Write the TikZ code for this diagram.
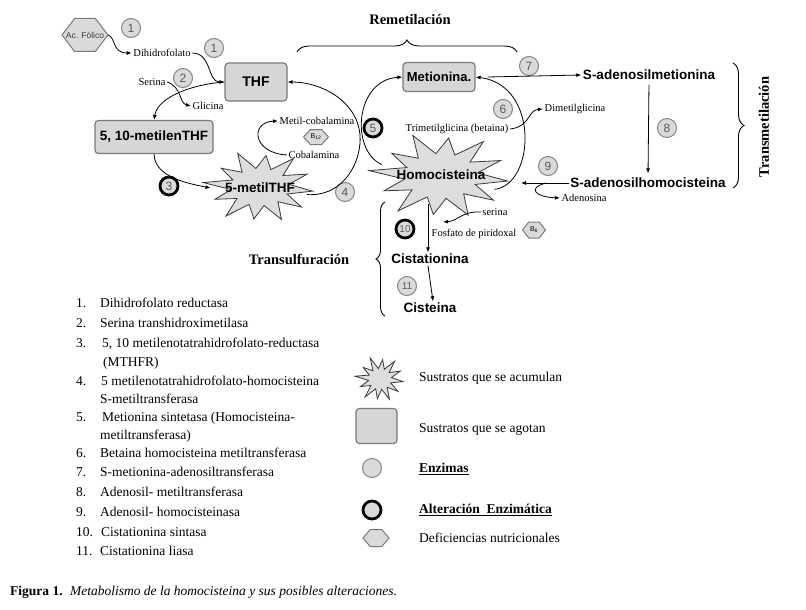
\documentclass[tikz,border=0pt]{standalone}
\usepackage{fontspec}
\setmainfont{Liberation Serif}
\setsansfont{Liberation Sans}
\usetikzlibrary{arrows.meta,shapes.geometric,decorations.pathreplacing,calc}
\definecolor{boxfill}{HTML}{D6D6D6}
\definecolor{boxline}{HTML}{7A7A7A}
\definecolor{enzfill}{HTML}{DADADA}
\definecolor{enzline}{HTML}{858585}
\definecolor{enztext}{HTML}{5A5A5A}
\definecolor{starfill}{HTML}{DDDDDD}
\definecolor{starline}{HTML}{3A3A3A}
\newcommand\fsz[1]{\fontsize{#1}{#1}\selectfont}
\newcommand\hexshape[4]{\draw[hexst] ({#1-#3},{#2}) -- ({#1-0.45*#3},{#2-#4}) -- ({#1+0.45*#3},{#2-#4}) -- ({#1+#3},{#2}) -- ({#1+0.45*#3},{#2+#4}) -- ({#1-0.45*#3},{#2+#4}) -- cycle;}
\newcommand\burstshape[6]{%
  \pgfmathtruncatemacro\burstN{2*#5-1}%
  \draw[starst] plot[samples at={0,...,\burstN}, variable=\x]
   ({#1+#3*(#6+(1-#6)*(1-mod(\x,2))*(1+0.18*sin(\x*97)))*cos(\x*180/#5+7)},
    {#2+#4*(#6+(1-#6)*(1-mod(\x,2))*(1+0.18*sin(\x*97)))*sin(\x*180/#5+7)}) -- cycle;}
\tikzset{
 arr/.style={-{Latex[length=5pt,width=4pt]}, line width=0.8pt},
 boxst/.style={draw=boxline, fill=boxfill, line width=1.2pt, rounded corners=3.5pt, inner sep=0pt, font=\sffamily\bfseries\fsz{13.5}},
 enzst/.style={circle, draw=enzline, fill=enzfill, line width=1pt, minimum size=19pt, inner sep=0pt, font=\sffamily\fsz{12}, text=enztext},
 altst/.style={enzst, draw=black, line width=2.8pt, minimum size=18pt},
 twodig/.style={font=\sffamily\fsz{10}},
 smalllab/.style={font=\fsz{10.5}, inner sep=1.5pt},
 metab/.style={font=\sffamily\bfseries\fsz{13.5}, inner sep=1.5pt},
 starlab/.style={ellipse, inner sep=0pt, font=\sffamily\bfseries\fsz{13.5}},
 hexst/.style={draw=boxline, fill=enzfill, line width=1pt},
 starst/.style={draw=starline, fill=starfill, line width=0.8pt, line join=miter},
 brc/.style={decorate, decoration={brace, amplitude=#1}, line width=0.9pt},
 titlab/.style={font=\bfseries\fsz{14.5}, inner sep=0pt},
 listitem/.style={anchor=base west, font=\fsz{13.5}, inner sep=0pt},
 legtxt/.style={anchor=west, font=\fsz{13.5}, inner sep=0pt},
}
\begin{document}
\begin{tikzpicture}[x=1pt,y=-1pt]
\useasboundingbox (0,0) rectangle (806,610);
\fill[white] (0,0) rectangle (806,610);

% ---- folate cycle ----
\hexshape{85}{35}{23}{16.5}
\node[font=\sffamily\fsz{8.5}, text=enztext!70!black, minimum width=46pt, minimum height=33pt, inner sep=0pt] (acf) at (85,35) {Ac. Fólico};
\node[enzst] (e1a) at (131,28) {1};
\node[smalllab] (dhf) at (162,53) {Dihidrofolato};
\node[enzst] (e1b) at (214,48) {1};
\node[boxst, minimum width=62pt, minimum height=38pt, font=\sffamily\bfseries\fsz{14}] (thf) at (256,82) {THF};
\node[smalllab] (ser) at (152,82) {Serina};
\node[enzst] (e2) at (183,78) {2};
\node[smalllab] (gli) at (208,106) {Glicina};
\node[boxst, minimum width=118pt, minimum height=33pt] (m10) at (154,137) {5, 10-metilenTHF};
\node[altst] (e3) at (169,186) {3};

\burstshape{260}{187}{53}{34}{12}{0.55}
\node[starlab, minimum width=94pt, minimum height=40pt] (mthf) at (260,188) {5-metilTHF};
\node[enzst] (e4) at (345,192) {4};

\node[smalllab] (mcob) at (317,121) {Metil-cobalamina};
\hexshape{316}{137}{12.5}{7.5}
\node[font=\sffamily\fsz{7}, inner sep=0pt] (b12) at (316,137) {B\textsubscript{12}};
\node[smalllab] (cob) at (314,155) {Cobalamina};
\node[altst] (e5) at (373,128) {5};

% ---- methionine cycle ----
\node[boxst, minimum width=72pt, minimum height=29pt, font=\sffamily\bfseries\fsz{13}] (met) at (439,77) {Metionina.};
\node[enzst] (e7) at (529,66) {7};
\node[enzst] (e6) at (503,109) {6};
\node[smalllab] (tmg) at (457,129) {Trimetilglicina (betaina)};
\node[smalllab] (dmg) at (575,109) {Dimetilglicina};
\node[metab] (sam) at (649,75) {S-adenosilmetionina};
\node[enzst] (e8) at (667,128) {8};
\node[metab] (sah) at (648,183) {S-adenosilhomocisteina};
\node[enzst] (e9) at (548,166) {9};
\node[smalllab] (ado) at (584,198) {Adenosina};

\burstshape{441}{176}{67}{41}{12}{0.55}
\node[starlab, minimum width=130pt, minimum height=50pt] (hcy) at (441,175) {Homocisteina};

% ---- transsulfuration ----
\node[smalllab] (ser2) at (495,212) {serina};
\node[altst, twodig] (e10) at (405,229) {10};
\node[smalllab] (fdp) at (474,234) {Fosfato de piridoxal};
\hexshape{534}{230}{11.5}{8}
\node[font=\sffamily\fsz{7}, inner sep=0pt] (b6) at (534,230) {B\textsubscript{6}};
\node[metab] (cist) at (430,259) {Cistationina};
\node[enzst, twodig] (e11) at (407,286) {11};
\node[metab] (cys) at (430,308) {Cisteina};

% ---- connectors ----
\draw[arr] (acf.east) .. controls (116,38) and (112,53) .. (dhf.west);
\draw[arr] (dhf.east) .. controls (212,53) and (207,82) .. (thf.west);
\draw[arr] (thf.west) .. controls (195,84) and (158,96) .. (m10.north);
\draw[arr] (ser.east) .. controls (182,87) and (179,103) .. (gli.west);
\draw[arr] (m10.south) .. controls (155,175) and (180,182) .. (mthf.west);
\draw[arr] (mthf.-8) .. controls (345,197) and (362,160) .. (360,135) .. controls (357,100) and (320,82) .. (thf.east);
\draw[arr] (cob.west) .. controls (252,153) and (250,122) .. (mcob.west);
\draw[arr] (hcy.170) .. controls (350,150) and (355,80) .. (met.west);
\draw[arr] (hcy.-15) .. controls (535,185) and (540,85) .. (met.east);
\draw[arr] (tmg.east) .. controls (530,127) and (528,110) .. (dmg.west);
\draw[arr] ([xshift=12pt]met.east) -- (sam.west);
\draw[arr, shorten <=3pt, shorten >=3pt] (sam.south) -- (sah.north);
\coordinate (hcyR) at (521,183);
\draw[arr] (sah.west) -- (hcyR);
\coordinate (adoS) at (546,183);
\draw[arr] (adoS) .. controls (527,188) and (535,197) .. (ado.west);
\coordinate (hcyB) at (428,204);
\draw[arr] (hcyB) -- (hcyB |- cist.north);
\coordinate (serE) at (443,222);
\draw[arr] (ser2.west) .. controls (462,211) and (458,221) .. (serE);
\draw[arr] ([xshift=-2pt]cist.south) -- ([xshift=3pt]cys.north);

% ---- braces ----
\draw[brc=12pt] (297,52) -- (517,52);
\node[titlab] (remet) at (410,20) {Remetilación};
\draw[brc=11pt] (733,63) -- (733,188);
\node[titlab, rotate=90] (transm) at (764,127) {Transmetilación};
\draw[brc=9pt] (385,316) -- (385,202);
\node[titlab] (transu) at (299,259) {Transulfuración};

% ---- enzyme list ----
\node[listitem] (n1) at (76,307) {1.};
\node[listitem] (t1) at (100,307) {Dihidrofolato reductasa};
\node[listitem] (n2) at (76,327) {2.};
\node[listitem] (t2) at (100,327) {Serina transhidroximetilasa};
\node[listitem] (n3) at (76,347) {3.};
\node[listitem] (t3) at (102,347) {5, 10 metilenotatrahidrofolato-reductasa};
\node[listitem] (t3b) at (103,366) {(MTHFR)};
\node[listitem] (n4) at (76,385) {4.};
\node[listitem] (t4) at (101,385) {5 metilenotatrahidrofolato-homocisteina};
\node[listitem] (t4b) at (100,403) {S-metiltransferasa};
\node[listitem] (n5) at (76,421) {5.};
\node[listitem] (t5) at (102,421) {Metionina sintetasa (Homocisteina-};
\node[listitem] (t5b) at (100,439) {metiltransferasa)};
\node[listitem] (n6) at (76,457) {6.};
\node[listitem] (t6) at (100,457) {Betaina homocisteina metiltransferasa};
\node[listitem] (n7) at (76,476) {7.};
\node[listitem] (t7) at (100,476) {S-metionina-adenosiltransferasa};
\node[listitem] (n8) at (76,496) {8.};
\node[listitem] (t8) at (100,496) {Adenosil- metiltransferasa};
\node[listitem] (n9) at (76,516) {9.};
\node[listitem] (t9) at (100,516) {Adenosil- homocisteinasa};
\node[listitem] (n10) at (76,536) {10.};
\node[listitem] (t10) at (101,536) {Cistationina sintasa};
\node[listitem] (n11) at (76,555) {11.};
\node[listitem] (t11) at (100,555) {Cistationina liasa};

% ---- legend ----
\burstshape{380}{379}{23}{21}{12}{0.5}
\node[legtxt] (lt1) at (419,378) {Sustratos que se acumulan};
\node[boxst, minimum width=41pt, minimum height=35pt] (lbox) at (376.5,426) {};
\node[legtxt] (lt2) at (419,429) {Sustratos que se agotan};
\node[enzst] (lenz) at (372,468) {};
\node[legtxt, font=\bfseries\fsz{13.5}] (lt3) at (419,469) {\underline{Enzimas}};
\node[altst] (lalt) at (372,510) {};
\node[legtxt, font=\bfseries\fsz{13.5}] (lt4) at (419,510) {\underline{Alteración\ \ Enzimática}};
\hexshape{376}{538}{13}{8.5}
\node[legtxt] (lt5) at (419,538) {Deficiencias nutricionales};

% ---- caption ----
\node[anchor=west, inner sep=0pt, font=\fsz{13.5}] (cap) at (10,592) {\textbf{Figura 1.}\hspace{0.55em}\textit{Metabolismo de la homocisteina y sus posibles alteraciones.}};
\end{tikzpicture}
\end{document}
